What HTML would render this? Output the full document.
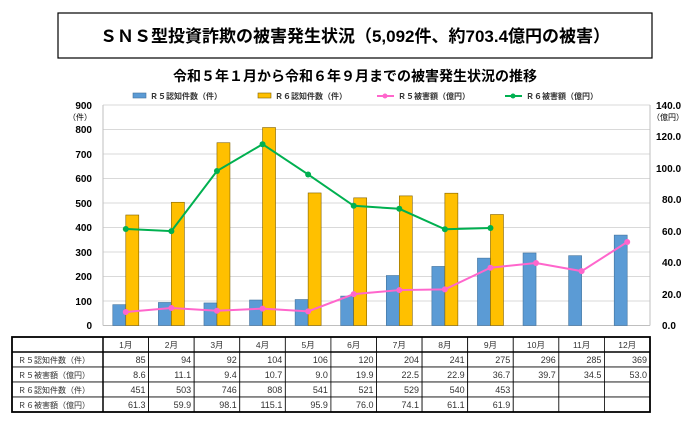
<!DOCTYPE html>
<html><head><meta charset="utf-8"><style>
body{margin:0;background:#fff;width:700px;height:426px;overflow:hidden;font-family:"Liberation Sans","Noto Sans CJK JP",sans-serif;}
svg text{font-family:"Liberation Sans","Noto Sans CJK JP",sans-serif;}
</style></head><body>
<svg width="700" height="426" viewBox="0 0 700 426" xmlns="http://www.w3.org/2000/svg">
<rect x="58" y="13" width="594" height="45" fill="#fff" stroke="#000" stroke-width="1.2"/>
<text x="355" y="42" font-size="17" font-weight="bold" text-anchor="middle" fill="#000">ＳＮＳ型投資詐欺の被害発生状況（5,092件、約703.4億円の被害）</text>
<text x="355" y="81" font-size="14" font-weight="bold" text-anchor="middle" fill="#000">令和５年１月から令和６年９月までの被害発生状況の推移</text>
<g font-size="8" font-weight="bold" fill="#333">
<rect x="133" y="93" width="13" height="5" fill="#5b9bd5" stroke="#41719c" stroke-width="0.6"/><text x="150" y="99">Ｒ５認知件数（件）</text>
<rect x="258" y="93" width="13" height="5" fill="#ffc000" stroke="#7f6000" stroke-width="0.6"/><text x="275" y="99">Ｒ６認知件数（件）</text>
<line x1="377" y1="96" x2="394" y2="96" stroke="#ff66cc" stroke-width="2"/><circle cx="385" cy="96" r="2.5" fill="#ff66cc"/><text x="398" y="99">Ｒ５被害額（億円）</text>
<line x1="505" y1="96" x2="522" y2="96" stroke="#00b050" stroke-width="2"/><circle cx="513" cy="96" r="2.5" fill="#00b050"/><text x="526" y="99">Ｒ６被害額（億円）</text>
</g>
<g stroke="#d9d9d9" stroke-width="1">
<line x1="103" y1="105" x2="650" y2="105"/><line x1="103" y1="129.5" x2="650" y2="129.5"/><line x1="103" y1="154" x2="650" y2="154"/><line x1="103" y1="178.5" x2="650" y2="178.5"/><line x1="103" y1="203" x2="650" y2="203"/><line x1="103" y1="227.5" x2="650" y2="227.5"/><line x1="103" y1="252" x2="650" y2="252"/><line x1="103" y1="276.5" x2="650" y2="276.5"/><line x1="103" y1="301" x2="650" y2="301"/>
</g>
<line x1="103" y1="105" x2="103" y2="325.5" stroke="#bfbfbf"/>
<line x1="650" y1="105" x2="650" y2="325.5" stroke="#bfbfbf"/>
<line x1="103" y1="325.5" x2="650" y2="325.5" stroke="#bfbfbf"/>
<g font-size="10" font-weight="bold" text-anchor="end" fill="#000">
<text x="92" y="109">900</text><text x="92" y="133">800</text><text x="92" y="158">700</text><text x="92" y="182">600</text><text x="92" y="207">500</text><text x="92" y="231">400</text><text x="92" y="256">300</text><text x="92" y="280">200</text><text x="92" y="305">100</text><text x="92" y="329">0</text>
</g>
<text x="80" y="120" font-size="8" text-anchor="middle">（件）</text>
<g font-size="10" font-weight="bold" fill="#000">
<text x="656" y="109">140.0</text><text x="656" y="140">120.0</text><text x="656" y="172">100.0</text><text x="662" y="203">80.0</text><text x="662" y="235">60.0</text><text x="662" y="266">40.0</text><text x="662" y="298">20.0</text><text x="662" y="329">0.0</text>
</g>
<text x="668" y="120" font-size="8" text-anchor="middle">（億円）</text>
<g id="bars"></g>
<g id="lines"></g>
<g id="table"></g>
</svg>
<script>
var ns="http://www.w3.org/2000/svg";
function el(p,t,a,txt){var e=document.createElementNS(ns,t);for(var k in a)e.setAttribute(k,a[k]);if(txt!=null)e.textContent=txt;p.appendChild(e);return e;}
var r5=[85,94,92,104,106,120,204,241,275,296,285,369],r6=[451,503,746,808,541,521,529,540,453];
var d5=[8.6,11.1,9.4,10.7,9.0,19.9,22.5,22.9,36.7,39.7,34.5,53.0],d6=[61.3,59.9,98.1,115.1,95.9,76.0,74.1,61.1,61.9];
var y0=325.5,sl=220.5/900,sr=220.5/140,cw=547/12;
var B=document.getElementById('bars'),L=document.getElementById('lines'),T=document.getElementById('table');
function cx(i){return 103+cw*(i+0.5);}
r5.forEach(function(v,i){el(B,'rect',{x:cx(i)-13,y:y0-v*sl,width:13,height:v*sl,fill:'#5b9bd5',stroke:'#41719c','stroke-width':0.6});});
r6.forEach(function(v,i){el(B,'rect',{x:cx(i),y:y0-v*sl,width:13,height:v*sl,fill:'#ffc000',stroke:'#7f6000','stroke-width':0.6});});
function line(d,c){el(L,'polyline',{points:d.map(function(v,i){return cx(i)+','+(y0-v*sr)}).join(' '),fill:'none',stroke:c,'stroke-width':2});d.forEach(function(v,i){el(L,'circle',{cx:cx(i),cy:y0-v*sr,r:3,fill:c});});}
line(d5,'#ff66cc');line(d6,'#00b050');
var ty=[337,352,367,382,397,412];
var rows=[['',"1月","2月","3月","4月","5月","6月","7月","8月","9月","10月","11月","12月"],
['Ｒ５認知件数（件）'].concat(r5.map(String)),['Ｒ５被害額（億円）'].concat(d5.map(function(v){return v.toFixed(1)})),
['Ｒ６認知件数（件）'].concat(r6.map(String)),['Ｒ６被害額（億円）'].concat(d6.map(function(v){return v.toFixed(1)}))];
for(var r=0;r<5;r++){for(var c=0;c<13;c++){var x=c==0?12:103+cw*(c-1),w=c==0?91:cw;
el(T,'rect',{x:x,y:ty[r],width:w,height:15,fill:'#fff',stroke:'#000','stroke-width':0.8});
var t=rows[r][c];if(t===undefined)continue;
if(c==0)el(T,'text',{x:x+6,y:ty[r]+11,'font-size':8,fill:'#333'},t);
else if(r==0)el(T,'text',{x:x+w/2,y:ty[r]+11,'font-size':8.5,'text-anchor':'middle',fill:'#333'},t);
else el(T,'text',{x:x+w-3,y:ty[r]+11,'font-size':9,'text-anchor':'end',fill:'#333'},t);}}
el(T,'rect',{x:12,y:337,width:638,height:75,fill:'none',stroke:'#000','stroke-width':1.8});
el(T,'line',{x1:103,y1:337,x2:103,y2:412,stroke:'#000','stroke-width':1.5});
el(T,'line',{x1:12,y1:352,x2:650,y2:352,stroke:'#000','stroke-width':1.5});
</script>
</body></html>
